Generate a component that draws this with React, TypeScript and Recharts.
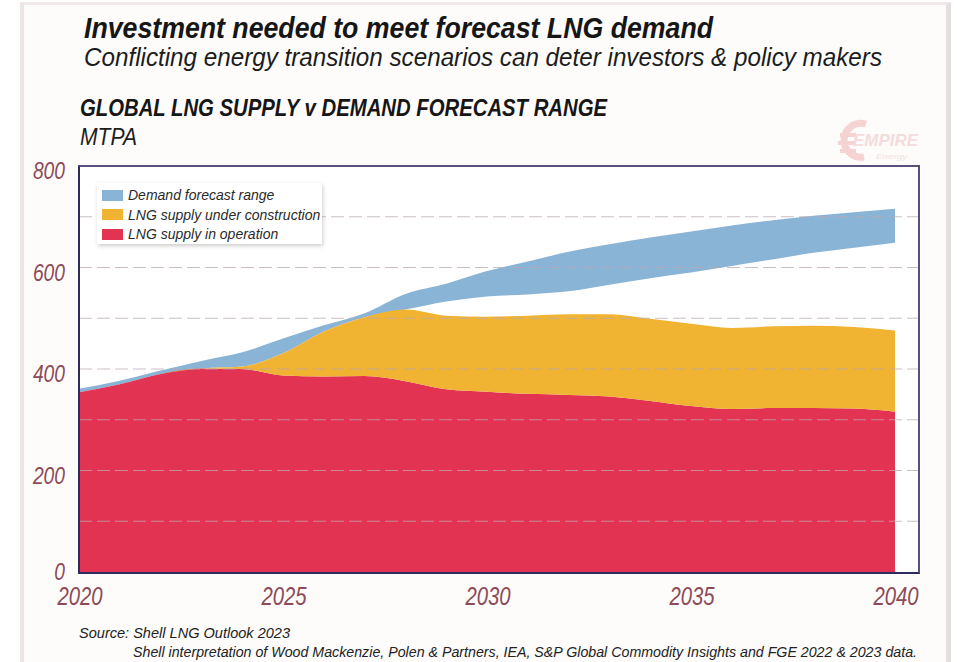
import React from 'react';
import { AreaChart, Area, XAxis, YAxis, ReferenceLine } from 'recharts';

const years = [2020, 2021, 2022, 2023, 2024, 2025, 2026, 2027, 2028, 2029, 2030, 2031, 2032, 2033, 2034, 2035, 2036, 2037, 2038, 2039, 2040];
const supplyInOperation = [354, 370, 390, 401, 400, 387, 385, 386, 376, 360, 355, 351, 349, 346, 337, 327, 321, 323, 323, 322, 316];
const supplyUnderConstruction = [0, 0, 0, 0, 5, 44, 89, 116, 141, 145, 148, 154, 159, 162, 162, 162, 160, 161, 162, 161, 160];
const demandLow = [354, 370, 390, 401, 405, 431, 474, 502, 517, 533, 543, 547, 553, 566, 579, 590, 603, 616, 629, 639, 649];
const demandHigh = [361, 377, 397, 416, 433, 460, 486, 510, 548, 568, 593, 612, 631, 646, 659, 671, 683, 693, 702, 709, 716];

const xTicks = [2020, 2025, 2030, 2035, 2040];
const yTickLabels = [0, 200, 400, 600, 800];
const gridValues = [100, 200, 300, 400, 500, 600, 700];

const seriesNames = ['Demand forecast range', 'LNG supply under construction', 'LNG supply in operation'];
const seriesColors = ['#8ab4d6', '#f0b332', '#e33352'];

const data = years.map((year, i) => ({
  year,
  operation: supplyInOperation[i],
  construction: supplyUnderConstruction[i],
  demand: [demandLow[i], demandHigh[i]],
}));

const SANS = '"Liberation Sans", Arial, sans-serif';
const AXIS_COLOR = '#8c4b57';

const YTick = (props: any) => {
  const { x, y, payload } = props;
  const s = String(payload.value);
  const shift = payload.value === 0 ? 0 : 5;
  return (
    <text
      x={x}
      y={y + shift}
      dy="0.355em"
      textAnchor="end"
      fill={AXIS_COLOR}
      fontSize={23}
      fontStyle="italic"
      fontFamily={SANS}
      textLength={s.length * 10.7}
      lengthAdjust="spacingAndGlyphs"
    >
      {s}
    </text>
  );
};

const XTick = (props: any) => {
  const { x, y, payload } = props;
  const s = String(payload.value);
  return (
    <text
      x={x + 1}
      y={y}
      dy="0.71em"
      textAnchor="middle"
      fill={AXIS_COLOR}
      fontSize={25}
      fontStyle="italic"
      fontFamily={SANS}
      textLength={s.length * 11.3}
      lengthAdjust="spacingAndGlyphs"
    >
      {s}
    </text>
  );
};

export default function App() {
  return (
    <div style={{ position: 'fixed', left: 0, top: 0, width: 957, height: 662, background: '#ffffff', overflow: 'hidden' }}>
      <div
        style={{
          position: 'absolute',
          left: 20,
          top: 2,
          width: 922,
          height: 700,
          background: '#fdfcfb',
          borderLeft: '4px solid #ebe5e5',
          borderRight: '5px solid #e4dede',
          borderTop: '3px solid #efe9e9',
        }}
      />
      <div style={{ position: 'absolute', left: 79, top: 166, width: 839, height: 406, background: '#ffffff' }} />
      <div style={{ position: 'absolute', left: 0, top: 0 }}>
        <AreaChart width={957} height={662} data={data} margin={{ top: 166, right: 39, bottom: 50, left: 9 }}>
          <XAxis
            dataKey="year"
            type="number"
            domain={[2020, 2040]}
            ticks={xTicks}
            padding={{ left: 0, right: 23 }}
            axisLine={false}
            tickLine={false}
            tickSize={0}
            tickMargin={15}
            height={40}
            tick={<XTick />}
            interval={0}
          />
          <YAxis
            type="number"
            domain={[0, 800]}
            ticks={yTickLabels}
            axisLine={false}
            tickLine={false}
            tickSize={0}
            tickMargin={14}
            width={70}
            tick={<YTick />}
            interval={0}
          />
          <Area
            dataKey="demand"
            name={seriesNames[0]}
            type="monotone"
            stroke="none"
            fill={seriesColors[0]}
            fillOpacity={1}
            isAnimationActive={false}
            dot={false}
            activeDot={false}
          />
          <Area
            dataKey="operation"
            name={seriesNames[2]}
            stackId="supply"
            type="monotone"
            stroke="none"
            fill={seriesColors[2]}
            fillOpacity={1}
            isAnimationActive={false}
            dot={false}
            activeDot={false}
          />
          <Area
            dataKey="construction"
            name={seriesNames[1]}
            stackId="supply"
            type="monotone"
            stroke="none"
            fill={seriesColors[1]}
            fillOpacity={1}
            isAnimationActive={false}
            dot={false}
            activeDot={false}
          />
          {gridValues.map((v) => (
            <ReferenceLine key={v} y={v} stroke="#b9a9b1" strokeOpacity={0.75} strokeWidth={1.2} strokeDasharray="13 5" ifOverflow="extendDomain" />
          ))}
        </AreaChart>
      </div>
      <div
        style={{
          position: 'absolute',
          left: 78,
          top: 165,
          width: 838,
          height: 405,
          borderTop: '2px solid #5b4f7c',
          borderRight: '2px solid #5b4f7c',
          borderLeft: '2px solid #2e2b5e',
          borderBottom: '2px solid #2e2b5e',
          pointerEvents: 'none',
        }}
      />
      <div
        style={{
          position: 'absolute',
          left: 97,
          top: 183,
          width: 225,
          height: 61,
          background: '#ffffff',
          boxShadow: '1px 2px 4px rgba(120,110,110,0.35)',
          fontFamily: SANS,
          fontStyle: 'italic',
          fontSize: 14,
          color: '#2a2a2a',
        }}
      >
        {seriesNames.map((name, i) => (
          <div key={name} style={{ position: 'absolute', left: 5, top: 5 + i * 19.5, height: 14, display: 'flex', alignItems: 'center', whiteSpace: 'nowrap' }}>
            <div style={{ width: 21, height: 11, background: seriesColors[i], marginRight: 5 }} />
            <span>{name}</span>
          </div>
        ))}
      </div>
      <svg width={957} height={662} style={{ position: 'absolute', left: 0, top: 0, pointerEvents: 'none' }}>
        <text x={84} y={38} fontFamily={SANS} fontWeight="bold" fontStyle="italic" fontSize={29} fill="#161616" textLength={629} lengthAdjust="spacingAndGlyphs">
          Investment needed to meet forecast LNG demand
        </text>
        <text x={84} y={66} fontFamily={SANS} fontStyle="italic" fontSize={25} fill="#1c1c1c" textLength={798} lengthAdjust="spacingAndGlyphs">
          Conflicting energy transition scenarios can deter investors &amp; policy makers
        </text>
        <text x={80} y={116} fontFamily={SANS} fontWeight="bold" fontStyle="italic" fontSize={23} fill="#161616" textLength={527} lengthAdjust="spacingAndGlyphs">
          GLOBAL LNG SUPPLY v DEMAND FORECAST RANGE
        </text>
        <text x={80} y={145} fontFamily={SANS} fontStyle="italic" fontSize={23} fill="#1c1c1c" textLength={57} lengthAdjust="spacingAndGlyphs">
          MTPA
        </text>
        <g opacity={0.6}>
          <path d="M 866 124 A 17 17 0 1 0 864 157" stroke="#f0b8b8" strokeWidth={7} fill="none" />
          <rect x={840} y={133} width={16} height={4} fill="#f0b8b8" />
          <rect x={838} y={141} width={18} height={4} fill="#f0b8b8" />
          <rect x={840} y={149} width={16} height={4} fill="#f0b8b8" />
          <text x={853} y={146} fontFamily={SANS} fontWeight="bold" fontStyle="italic" fontSize={17} fill="#f0c6c6" textLength={65} lengthAdjust="spacingAndGlyphs">
            EMPIRE
          </text>
          <text x={876} y={159} fontFamily={SANS} fontStyle="italic" fontSize={8} fill="#e6d0d0" textLength={31} lengthAdjust="spacingAndGlyphs">
            Energy
          </text>
        </g>
        <text x={79} y={638} fontFamily={SANS} fontStyle="italic" fontSize={14} fill="#222" textLength={211} lengthAdjust="spacingAndGlyphs">
          Source: Shell LNG Outlook 2023
        </text>
        <text x={133} y={657} fontFamily={SANS} fontStyle="italic" fontSize={14} fill="#222" textLength={784} lengthAdjust="spacingAndGlyphs">
          Shell interpretation of Wood Mackenzie, Polen &amp; Partners, IEA, S&amp;P Global Commodity Insights and FGE 2022 &amp; 2023 data.
        </text>
      </svg>
    </div>
  );
}
